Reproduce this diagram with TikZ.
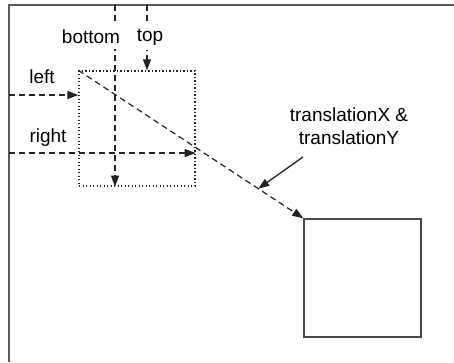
\documentclass[tikz,border=0pt]{standalone}
\usepackage{fontspec}
\setmainfont{Liberation Sans}
\usetikzlibrary{arrows.meta,calc}
\definecolor{framegray}{HTML}{5A5A5A}
\definecolor{linegray}{HTML}{222222}
\begin{document}
\begin{tikzpicture}[x=1pt,y=-1pt,
    tip/.style={-{Triangle[length=11pt,width=8pt]}},
    dashline/.style={tip, linegray, line width=1.2pt, dash pattern=on 6pt off 4pt},
    dotbox/.style={draw=linegray, line width=1.3pt, dash pattern=on 1.3pt off 2.2pt, minimum width=116pt, minimum height=115pt, inner sep=0pt},
    solidbox/.style={draw=framegray!80!black, line width=1.5pt, minimum width=117pt, minimum height=118pt, inner sep=0pt},
    lbl/.style={font=\fontsize{19}{23}\selectfont, fill=white, inner xsep=1pt, inner ysep=5pt}]
    \useasboundingbox (0,0) rectangle (454,362);
    % Frame
    \draw[framegray, line width=2pt] (9,362) -- (9,5) -- (454,5);
    % Boxes
    \node[dotbox] (src) at (137,128.5) {};
    \node[solidbox] (dst) at (362.5,278) {};
    % Free ends
    \coordinate (btmS) at (115,5);
    \coordinate (topS) at (147,5);
    \coordinate (lftS) at (9,95);
    \coordinate (rgtS) at (9,153);
    \coordinate (trS) at (303,157);
    \coordinate (trE) at ($(src.north west)!0.8!(dst.north west)$);
    % Dashed arrows
    \draw[dashline] (btmS) -- (btmS |- src.south);
    \draw[dashline] (topS) -- (topS |- src.north);
    \draw[dashline] (lftS) -- (lftS -| src.west);
    \draw[dashline] (rgtS) -- (rgtS -| src.east);
    \draw[dashline] (src.north west) -- (dst.north west);
    % Labels
    \node[lbl] (bottom) at (91,37) {bottom};
    \node[lbl] (top) at (150,37) {top};
    \node[lbl] (left) at (42,77) {left};
    \node[lbl] (right) at (48,138) {right};
    \node[lbl, align=center, fill=none] (trans) at (349,126) {translationX \&\\translationY};
    \draw[tip, linegray, line width=1.3pt] (trS) -- (trE);
\end{tikzpicture}
\end{document}
